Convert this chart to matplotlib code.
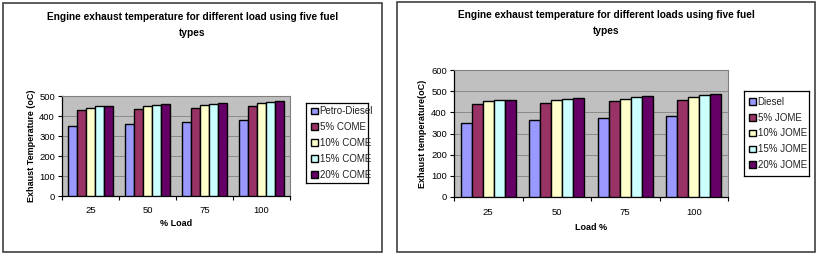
import matplotlib.pyplot as plt
import numpy as np
from matplotlib.patches import Rectangle

plt.rcParams['font.family'] = ['Liberation Sans', 'DejaVu Sans']

loads = ['25', '50', '75', '100']
colors = ['#9999FF', '#993366', '#FFFFCC', '#CCFFFF', '#660066']

# left chart: COME blends
come_names = ['Petro-Diesel', '5% COME', '10% COME', '15% COME', '20% COME']
come_vals = [
    [350, 362, 370, 380],
    [430, 435, 440, 450],
    [442, 448, 455, 465],
    [448, 455, 462, 470],
    [452, 460, 467, 475],
]

# right chart: JOME blends
jome_names = ['Diesel', '5% JOME', '10% JOME', '15% JOME', '20% JOME']
jome_vals = [
    [350, 362, 372, 383],
    [440, 445, 452, 460],
    [452, 457, 464, 474],
    [458, 465, 472, 480],
    [460, 470, 477, 485],
]

W, H = 821, 274
fig = plt.figure(figsize=(W / 100, H / 100), dpi=100)


def box(x0, y0, x1, y1):
    # pixel box -> figure fraction [left, bottom, width, height]
    return [x0 / W, 1 - y1 / H, (x1 - x0) / W, (y1 - y0) / H]


def panel(frame, area, leg, title, title_y, names, vals, ymax, ylabel, xlabel,
          ylab_x, xlab_y, tick_pad):
    l, b, w, h = box(*frame)
    fig.patches.append(Rectangle((l, b), w, h, transform=fig.transFigure,
                                 fill=False, edgecolor='#404040', lw=1.2))
    cx = (frame[0] + frame[2]) / 2 / W
    fig.text(cx, 1 - title_y / H, title, ha='center', va='top',
             fontsize=7.3, fontweight='bold', linespacing=1.75)

    ax = fig.add_axes(box(*area))
    ax.set_facecolor('#C0C0C0')
    x = np.arange(len(loads))
    bw = 0.8 / len(names)
    for i, (nm, v) in enumerate(zip(names, vals)):
        ax.bar(x - 0.4 + bw * (i + 0.5), v, bw, color=colors[i],
               edgecolor='black', lw=1.0, label=nm, zorder=3)
    ax.set_xlim(-0.5, len(loads) - 0.5)
    ax.set_ylim(0, ymax)
    ax.set_yticks(np.arange(0, ymax + 1, 100))
    ax.yaxis.grid(True, color='#8a8a8a', lw=0.7, zorder=0)
    ax.set_xticks(np.arange(-0.5, len(loads)), [''] * (len(loads) + 1))
    ax.set_xticks(x, loads, minor=True)
    ax.tick_params(axis='x', which='minor', length=0, pad=tick_pad,
                   labelsize=6.8)
    ax.tick_params(axis='x', which='major', length=3, width=0.8)
    ax.tick_params(axis='y', length=3, width=0.8, labelsize=6.8, pad=2)
    for s in ['top', 'right']:
        ax.spines[s].set_color('#808080')
    for s in ['left', 'bottom']:
        ax.spines[s].set_linewidth(0.9)
    fig.text(ylab_x / W, 1 - (area[1] + area[3]) / 2 / H, ylabel,
             rotation=90, ha='center', va='center', fontsize=6.5,
             fontweight='bold')
    fig.text((area[0] + area[2]) / 2 / W, 1 - xlab_y / H, xlabel,
             ha='center', va='center', fontsize=6.5, fontweight='bold')

    lax = fig.add_axes(box(*leg))
    lax.set_xticks([])
    lax.set_yticks([])
    for s in lax.spines.values():
        s.set_linewidth(0.9)
    handles, labels = ax.get_legend_handles_labels()
    lg = lax.legend(handles, labels, loc='center left', frameon=False,
                    fontsize=7, handlelength=0.7, handleheight=0.7,
                    handletextpad=0.2, labelspacing=0.6, borderaxespad=0.1)
    for t in lg.get_texts():
        t.set_color('#222222')


panel((3, 3, 382, 252), (62, 96, 290, 196), (306, 103, 368, 183),
      'Engine exhaust temperature for different load using five fuel\ntypes',
      12, come_names, come_vals, 500, 'Exhaust Temperature (oC)', '% Load',
      31, 224, 7)

panel((397, 2, 815, 252), (454, 70, 728, 197), (744, 91, 809, 176),
      'Engine exhaust temperature for different loads using five fuel\ntypes',
      10, jome_names, jome_vals, 600, 'Exhaust temperature(oC)', 'Load %',
      422, 227, 8)

fig.savefig('out.png', dpi=100)
